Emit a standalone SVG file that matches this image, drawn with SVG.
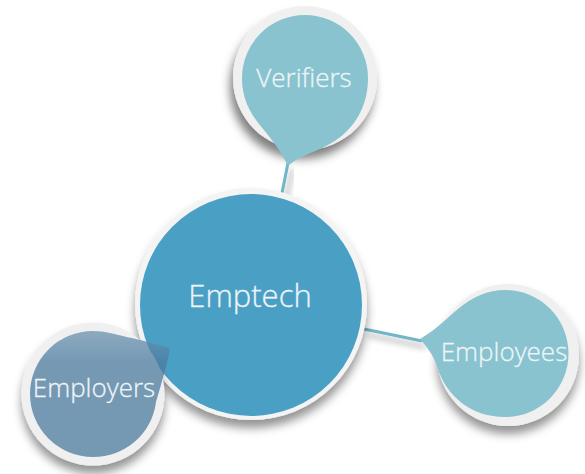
<svg xmlns="http://www.w3.org/2000/svg" width="585" height="474" viewBox="0 0 585 474">
<style>
.ring{fill:#f0f0f0}
.drop{fill:#88c3cf}
.link{stroke:#6fb6c6;stroke-width:3;fill:none}
.lbl{font-family:"Open Sans","Noto Sans",sans-serif;font-weight:300;fill:#eef5f7;stroke:#eef5f7;stroke-width:.3;text-anchor:middle;font-size:26px}
</style>
<defs>
<filter id="sh" x="-30%" y="-30%" width="160%" height="160%"><feDropShadow dx="0" dy="8" stdDeviation="5" flood-color="#000" flood-opacity=".42"/></filter>
<filter id="shl" x="-30%" y="-30%" width="160%" height="160%"><feDropShadow dx="-3" dy="9" stdDeviation="5" flood-color="#000" flood-opacity=".5"/></filter>
<filter id="ls" x="-100%" y="-100%" width="300%" height="300%"><feDropShadow dx="4" dy="6" stdDeviation="3" flood-color="#000" flood-opacity=".35"/></filter>
<linearGradient id="eg" x1="0" y1="0" x2="0" y2="1"><stop offset="0" stop-color="#6b93b0"/><stop offset=".25" stop-color="#4c7b9f"/><stop offset="1" stop-color="#4c7b9f"/></linearGradient>
</defs>
<g id="connectors">
<path class="link" filter="url(#ls)" d="M288 163L282 193"/>
<path class="link" filter="url(#ls)" d="M364 329L422 341"/>
</g>
<g id="node-emptech">
<circle cx="251" cy="304" r="116" fill="#f4f4f4" filter="url(#sh)"/>
<circle cx="251" cy="305" r="111" fill="#4a9fc4"/>
<text class="lbl" x="250" y="307" style="font-size:31px">Emptech</text>
</g>
<g id="node-verifiers">
<circle class="ring" cx="305" cy="78" r="72" filter="url(#shl)"/>
<path class="drop" d="M242 78A63 63 0 0 1 368 78C368 114 347 137 322 148C309 154 296 158 288 166C281 151 270 137 259 124C248 110 242 96 242 78Z"/>
<text class="lbl" x="304" y="87">Verifiers</text>
</g>
<g id="node-employees">
<circle class="ring" cx="508" cy="355" r="71" filter="url(#sh)"/>
<path class="drop" d="M505 290A63.500 63.500 0 0 1 505 417C472 417 446 397 437 366C433 354 426 346 420 339C434 331 445 320 458 309C472 297 488 290 505 290Z"/>
<text class="lbl" x="504" y="361">Employees</text>
</g>
<g id="node-employers">
<circle class="ring" cx="93" cy="394" r="71.500" filter="url(#sh)"/>
<path fill="url(#eg)" opacity=".75" d="M93 331C108 331 120 336 132 338C146 341 158 345 170 348C167 365 161 385 156 402C152 434 125 457 93 457A63 63 0 0 1 93 331Z"/>
<text class="lbl" x="94" y="397">Employers</text>
</g>
</svg>
